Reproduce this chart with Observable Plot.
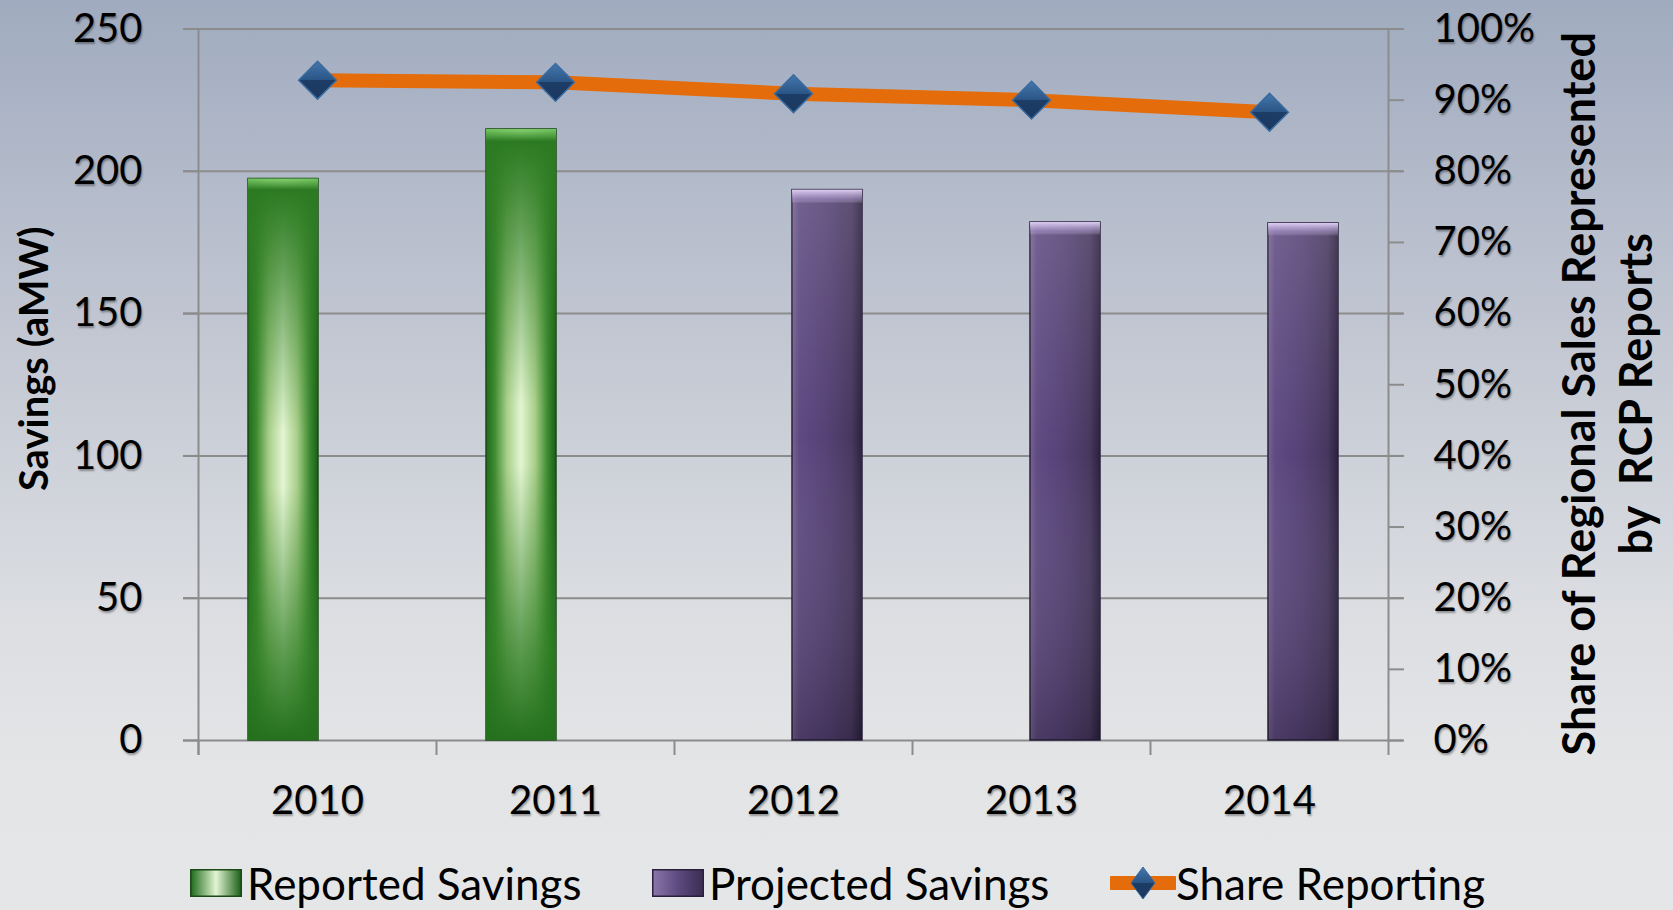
<!DOCTYPE html>
<html><head><meta charset="utf-8">
<script src="https://cdn.jsdelivr.net/npm/d3@7"></script>
<script src="https://cdn.jsdelivr.net/npm/@observablehq/plot@0.6"></script>
<style>
html,body{margin:0;padding:0;}
body{width:1673px;height:910px;overflow:hidden;position:relative;
  background:linear-gradient(to bottom,#a0abbf 0%,#b5bccb 22%,#c9cdd6 45%,#dcdee2 68%,#e3e4e6 82%,#e5e6e8 100%);
  font-family:Lato,"Open Sans",sans-serif;}
#chart{position:absolute;left:0;top:0;}
#legend{position:absolute;left:0;top:858px;width:1673px;height:50px;}
.item{position:absolute;top:0;height:50px;display:flex;align-items:center;font-size:44px;color:#000;white-space:nowrap;}
.item svg{display:block;margin-right:5px;}
.item.line svg{margin-right:0;}
#chart g[aria-label$="tick label"] text{ text-shadow:1px 2px 2px rgba(0,0,0,0.35); }
</style></head><body>
<div id="chart"></div>
<div id="legend"></div>
<script>
// ---- data ----
const years = ["2010", "2011", "2012", "2013", "2014"];
const reportedSavings = [197.3, 214.7, null, null, null];   // aMW
const projectedSavings = [null, null, 193.4, 182.0, 181.7]; // aMW
const shareReporting = [92.8, 92.5, 90.9, 90.0, 88.3];      // percent
const leftTicks = [0, 50, 100, 150, 200, 250];
const rightTicks = [0, 10, 20, 30, 40, 50, 60, 70, 80, 90, 100];
const seriesNames = ["Reported Savings", "Projected Savings", "Share Reporting"];
const yTitle = "Savings (aMW)";
const y2Title = "Share of Regional Sales Represented\nby  RCP Reports";

// ---- layout ----
const W = 1673, H = 830, ML = 198, MR = 285, MT = 28.5, MB = 90;
const bw = (W - ML - MR) / years.length;
const barW = 70, barShift = 34;
const k = leftTicks[leftTicks.length - 1] / rightTicks[rightTicks.length - 1]; // secondary axis mapping
const grid = "#8c8c8c";

const rows = years.map((y, i) => ({year: y, reported: reportedSavings[i], projected: projectedSavings[i], share: shareReporting[i]}));

const barOpts = {insetLeft: (bw - barW) / 2, insetRight: (bw - barW) / 2};

const plot = Plot.plot({
  width: W, height: H,
  marginLeft: ML, marginRight: MR, marginTop: MT, marginBottom: MB,
  style: {background: "transparent", fontFamily: "Lato, 'Open Sans', sans-serif", color: "#000", overflow: "visible"},
  x: {type: "band", domain: years, padding: 0},
  y: {domain: [0, 250]},
  marks: [
    Plot.ruleY(leftTicks, {y: d => d, stroke: grid, strokeWidth: 2, insetLeft: -15, insetRight: -15}),
    // category separator ticks
    Plot.ruleX(years, {x: d => d, dx: -bw / 2, y1: 0, y2: 0, insetBottom: -15, stroke: grid, strokeWidth: 2}),
    // left and right axis lines
    Plot.ruleX([years[0]], {x: d => d, dx: -bw / 2, y1: 250, y2: 0, insetBottom: -15, stroke: grid, strokeWidth: 2}),
    Plot.ruleX([years[years.length - 1]], {x: d => d, dx: bw / 2, y1: 250, y2: 0, insetBottom: -15, stroke: grid, strokeWidth: 2}),
    Plot.axisY({anchor: "left", ticks: leftTicks, tickSize: 15, tickPadding: 41, fontSize: 40, stroke: grid, strokeWidth: 2, fill: "#000", label: null}),
    Plot.axisY({anchor: "right", ticks: rightTicks.map(d => d * k), tickSize: 15, tickPadding: 30, fontSize: 40,
      tickFormat: d => `${Math.round(d / k)}%`, stroke: grid, strokeWidth: 2, fill: "#000", label: null}),
    Plot.axisX({tickSize: 0, tickPadding: 45, fontSize: 40, fill: "#000", label: null}),
    // bars
    Plot.barY(rows, {x: "year", y: "reported", fill: "url(#greenH)", stroke: "#1b4a16", strokeWidth: 1.5, dx: -barShift, ...barOpts}),
    Plot.barY(rows, {x: "year", y: "reported", fill: "url(#greenV)", dx: -barShift, ...barOpts}),
    Plot.barY(rows, {x: "year", y: "projected", fill: "url(#purpleH)", stroke: "#2a1f3c", strokeWidth: 1.5, dx: barShift, ...barOpts}),
    Plot.barY(rows, {x: "year", y: "projected", fill: "url(#purpleV)", dx: barShift, ...barOpts}),
    // share line
    Plot.line(rows, {x: "year", y: d => d.share * k, stroke: "#e46c0a", strokeWidth: 14}),
    Plot.dot(rows, {x: "year", y: d => d.share * k, symbol: "diamond2", r: 17, fill: "url(#dia)", stroke: "#3a6b9f", strokeWidth: 1.5}),
    // titles
    Plot.text([yTitle], {text: d => d, frameAnchor: "left", textAnchor: "middle", rotate: -90, dx: -163, dy: -26, fontSize: 40, fontWeight: "bold", fill: "#000"}),
    Plot.text([y2Title], {text: d => d, frameAnchor: "right", textAnchor: "middle", rotate: -90, dx: 217, dy: 9, fontSize: 45, fontWeight: "bold", lineHeight: 1.25, fill: "#000"})
  ]
});

const defs = `
<defs>
  <linearGradient id="greenH" x1="0" y1="0" x2="1" y2="0">
    <stop offset="0" stop-color="#1f6b1c"/>
    <stop offset="0.12" stop-color="#3d8a30"/>
    <stop offset="0.3" stop-color="#a9cf8a"/>
    <stop offset="0.5" stop-color="#e3f5d3"/>
    <stop offset="0.7" stop-color="#a9cf8a"/>
    <stop offset="0.88" stop-color="#3d8a30"/>
    <stop offset="1" stop-color="#1a5e17"/>
  </linearGradient>
  <linearGradient id="greenV" x1="0" y1="0" x2="0" y2="1">
    <stop offset="0" stop-color="#7fcf6a" stop-opacity="0.9"/>
    <stop offset="0.02" stop-color="#2b7a22" stop-opacity="1"/>
    <stop offset="0.1" stop-color="#2f7d25" stop-opacity="0.85"/>
    <stop offset="0.45" stop-color="#2f7d25" stop-opacity="0"/>
    <stop offset="0.55" stop-color="#2f7d25" stop-opacity="0"/>
    <stop offset="0.85" stop-color="#2f7d25" stop-opacity="0.75"/>
    <stop offset="1" stop-color="#24701d" stop-opacity="1"/>
  </linearGradient>
  <linearGradient id="purpleH" x1="0" y1="0" x2="1" y2="0">
    <stop offset="0" stop-color="#76638f"/>
    <stop offset="0.1" stop-color="#5f4a82"/>
    <stop offset="0.5" stop-color="#554174"/>
    <stop offset="0.85" stop-color="#47375f"/>
    <stop offset="1" stop-color="#2b213e"/>
  </linearGradient>
  <linearGradient id="purpleV" x1="0" y1="0" x2="0" y2="1">
    <stop offset="0" stop-color="#e6d8fb" stop-opacity="0.95"/>
    <stop offset="0.018" stop-color="#b7a4d4" stop-opacity="0.55"/>
    <stop offset="0.025" stop-color="#ffffff" stop-opacity="0.12"/>
    <stop offset="0.45" stop-color="#ffffff" stop-opacity="0"/>
    <stop offset="1" stop-color="#000000" stop-opacity="0.22"/>
  </linearGradient>
  <linearGradient id="dia" x1="0" y1="0" x2="0" y2="1">
    <stop offset="0" stop-color="#4577ab"/>
    <stop offset="0.5" stop-color="#2a5486"/>
    <stop offset="0.5" stop-color="#1d3d66"/>
    <stop offset="1" stop-color="#1b3760"/>
  </linearGradient>
</defs>`;
plot.insertAdjacentHTML("afterbegin", defs);
document.getElementById("chart").appendChild(plot);

// ---- legend ----
const legend = document.getElementById("legend");
const swatches = [
  `<svg width="52" height="28"><defs>
     <linearGradient id="lg1" x1="0" x2="1"><stop offset="0" stop-color="#1f6b1c"/><stop offset="0.5" stop-color="#e3f5d3"/><stop offset="1" stop-color="#1a5e17"/></linearGradient>
   </defs><rect x="0.75" y="0.75" width="50.5" height="26.5" fill="url(#lg1)" stroke="#1b4a16" stroke-width="1.5"/></svg>`,
  `<svg width="52" height="28"><defs>
     <linearGradient id="lg2" x1="0" x2="1"><stop offset="0" stop-color="#8a76a8"/><stop offset="0.5" stop-color="#5e4a80"/><stop offset="1" stop-color="#3a2d52"/></linearGradient>
   </defs><rect x="0.75" y="0.75" width="50.5" height="26.5" fill="url(#lg2)" stroke="#2a1f3c" stroke-width="1.5"/></svg>`,
  `<svg width="66" height="34"><defs>
     <linearGradient id="lg3" x1="0" y1="0" x2="0" y2="1"><stop offset="0" stop-color="#4577ab"/><stop offset="0.5" stop-color="#2a5486"/><stop offset="0.5" stop-color="#1d3d66"/><stop offset="1" stop-color="#1b3760"/></linearGradient>
   </defs><line x1="2" y1="17" x2="64" y2="17" stroke="#e46c0a" stroke-width="14" stroke-linecap="round"/>
   <path d="M33,1 L45,17 L33,33 L21,17 Z" fill="url(#lg3)" stroke="#3a6b9f" stroke-width="1"/></svg>`
];
const lefts = [190, 652, 1110];
seriesNames.forEach((name, i) => {
  const d = document.createElement("div");
  d.className = "item" + (i === 2 ? " line" : "");
  d.style.left = lefts[i] + "px";
  d.innerHTML = swatches[i] + `<span>${name}</span>`;
  legend.appendChild(d);
});
</script>
</body></html>
